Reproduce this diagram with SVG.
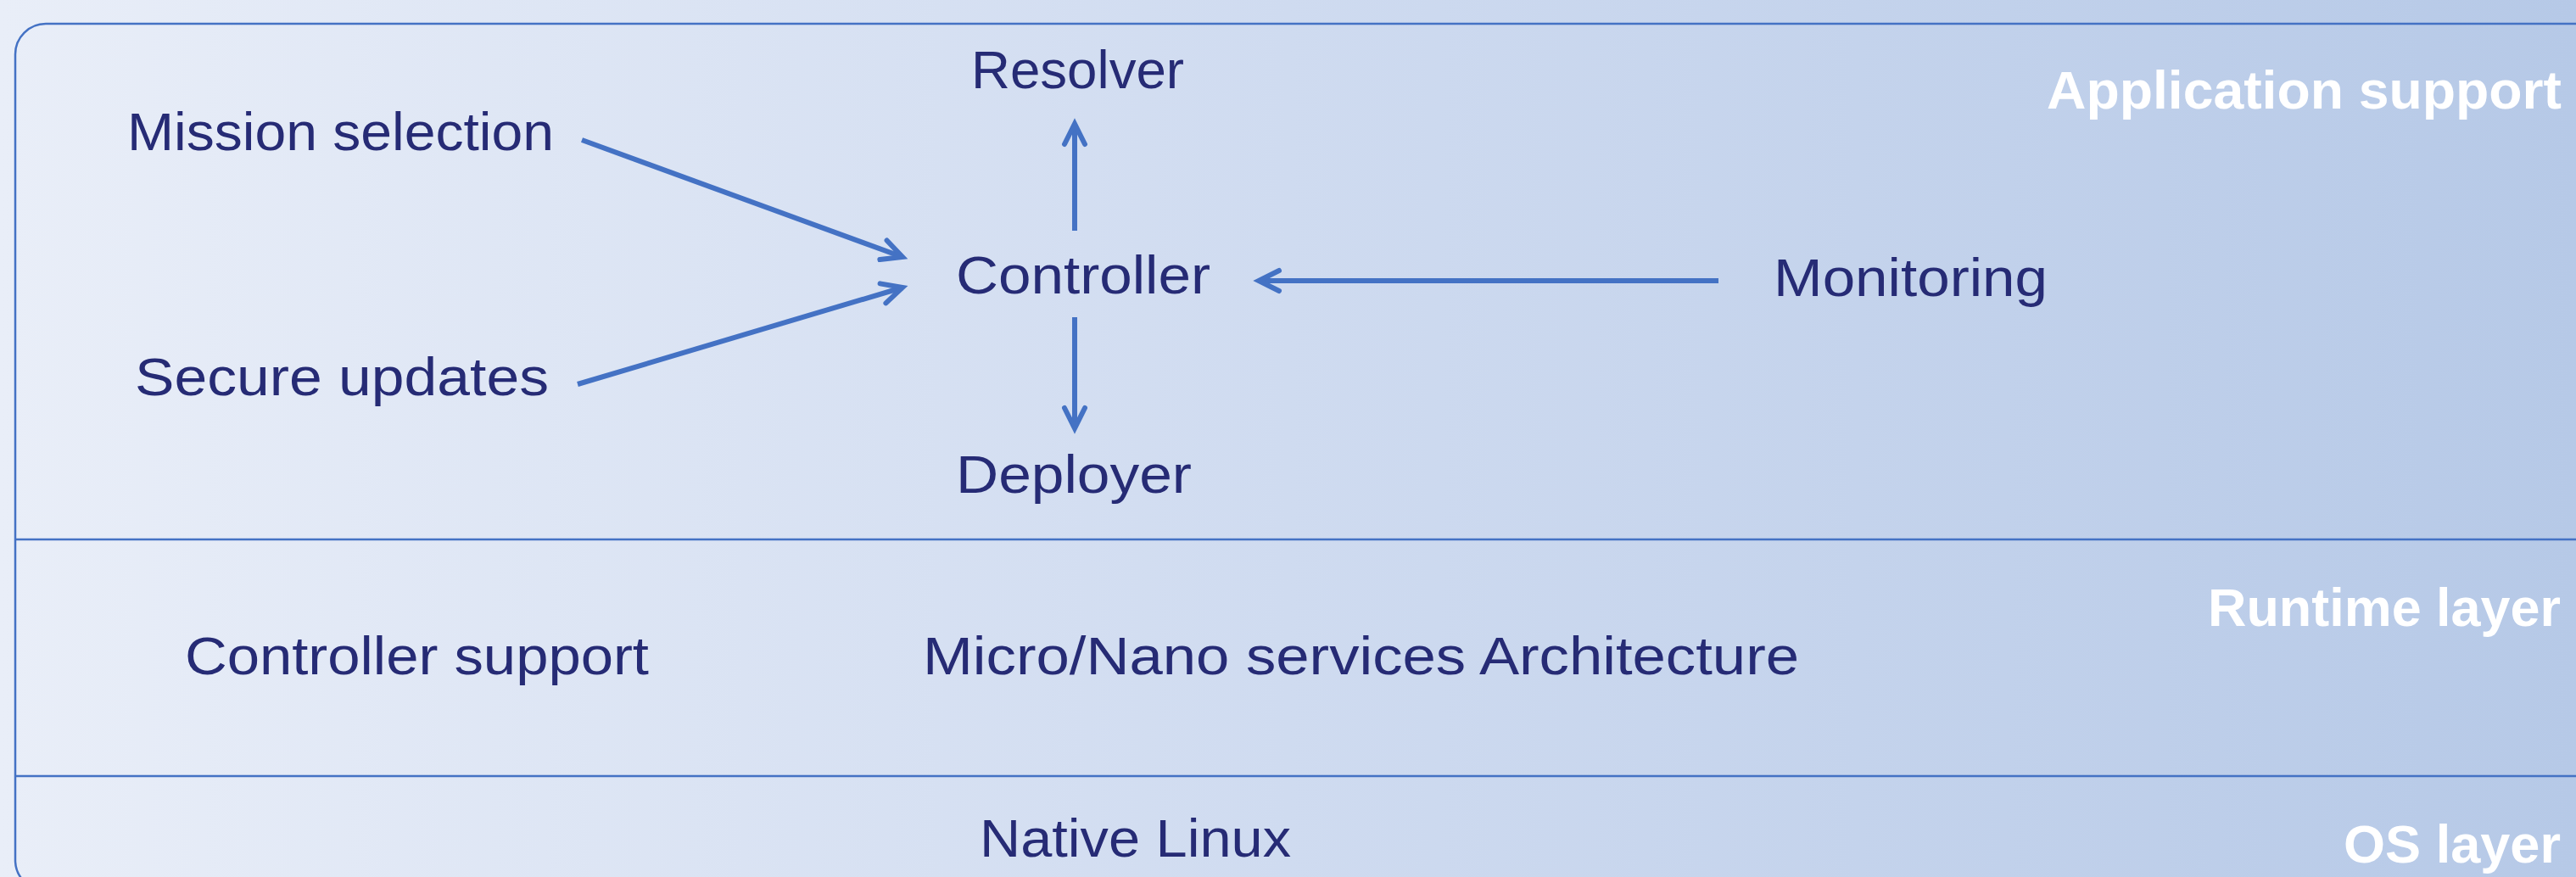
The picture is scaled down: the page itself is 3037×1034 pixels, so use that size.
<svg xmlns="http://www.w3.org/2000/svg" width="3037" height="1034" viewBox="0 0 3037 1034">
  <defs>
    <linearGradient id="bg" x1="0" y1="0" x2="1" y2="0">
      <stop offset="0" stop-color="#E9EEF8"/>
      <stop offset="0.5" stop-color="#CFDBF0"/>
      <stop offset="1" stop-color="#B6C9E7"/>
    </linearGradient>
    <marker id="chev" markerUnits="userSpaceOnUse" markerWidth="60" markerHeight="60" viewBox="-30 -30 60 60" refX="0" refY="0" orient="auto">
      <path d="M -24,-12 L 0,0 L -24,12" fill="none" stroke="#4472C4" stroke-width="6" stroke-linecap="round" stroke-linejoin="miter"/>
    </marker>
    <style>
      .lbl { font-family: "Liberation Sans", Arial, sans-serif; font-size: 63px; fill: #262B75; }
      .layer { font-family: "Liberation Sans", Arial, sans-serif; font-size: 63px; font-weight: bold; fill: #FFFFFF; text-anchor: end; }
      .frame { fill: none; stroke: #4472C4; stroke-width: 2.5; }
      .conn { fill: none; stroke: #4472C4; stroke-width: 6; marker-end: url(#chev); }
    </style>
  </defs>

  <!-- background -->
  <rect x="0" y="0" width="3037" height="1034" fill="url(#bg)"/>

  <!-- layered frame -->
  <g id="frame">
    <rect class="frame" x="18" y="28" width="3100" height="1022" rx="36" ry="36"/>
    <line class="frame" x1="18" y1="636" x2="3037" y2="636"/>
    <line class="frame" x1="18" y1="915" x2="3037" y2="915"/>
  </g>

  <!-- layer titles -->
  <g id="layer-application">
    <text class="layer" x="3020" y="128" textLength="607" lengthAdjust="spacingAndGlyphs">Application support</text>
  </g>
  <g id="layer-runtime">
    <text class="layer" x="3019" y="738" textLength="416" lengthAdjust="spacingAndGlyphs">Runtime layer</text>
  </g>
  <g id="layer-os">
    <text class="layer" x="3019" y="1017" textLength="256" lengthAdjust="spacingAndGlyphs">OS layer</text>
  </g>

  <!-- nodes -->
  <g id="mission-selection">
    <text class="lbl" x="150" y="177" textLength="503" lengthAdjust="spacingAndGlyphs">Mission selection</text>
  </g>
  <g id="secure-updates">
    <text class="lbl" x="159" y="466" textLength="488" lengthAdjust="spacingAndGlyphs">Secure updates</text>
  </g>
  <g id="resolver">
    <text class="lbl" x="1145" y="104" textLength="251" lengthAdjust="spacingAndGlyphs">Resolver</text>
  </g>
  <g id="controller">
    <text class="lbl" x="1127" y="346" textLength="300" lengthAdjust="spacingAndGlyphs">Controller</text>
  </g>
  <g id="deployer">
    <text class="lbl" x="1127" y="581" textLength="278" lengthAdjust="spacingAndGlyphs">Deployer</text>
  </g>
  <g id="monitoring">
    <text class="lbl" x="2091" y="349" textLength="323" lengthAdjust="spacingAndGlyphs">Monitoring</text>
  </g>
  <g id="controller-support">
    <text class="lbl" x="218" y="795" textLength="547" lengthAdjust="spacingAndGlyphs">Controller support</text>
  </g>
  <g id="micro-nano">
    <text class="lbl" x="1088" y="795" textLength="1033" lengthAdjust="spacingAndGlyphs">Micro/Nano services Architecture</text>
  </g>
  <g id="native-linux">
    <text class="lbl" x="1155" y="1010" textLength="367" lengthAdjust="spacingAndGlyphs">Native Linux</text>
  </g>

  <!-- connectors -->
  <g id="connectors">
    <line class="conn" x1="686" y1="165" x2="1064" y2="303"/>
    <line class="conn" x1="681" y1="453" x2="1064" y2="339"/>
    <line class="conn" x1="1267" y1="272" x2="1267" y2="146"/>
    <line class="conn" x1="1267" y1="374" x2="1267" y2="505"/>
    <line class="conn" x1="2026" y1="331" x2="1484" y2="331"/>
  </g>
</svg>
